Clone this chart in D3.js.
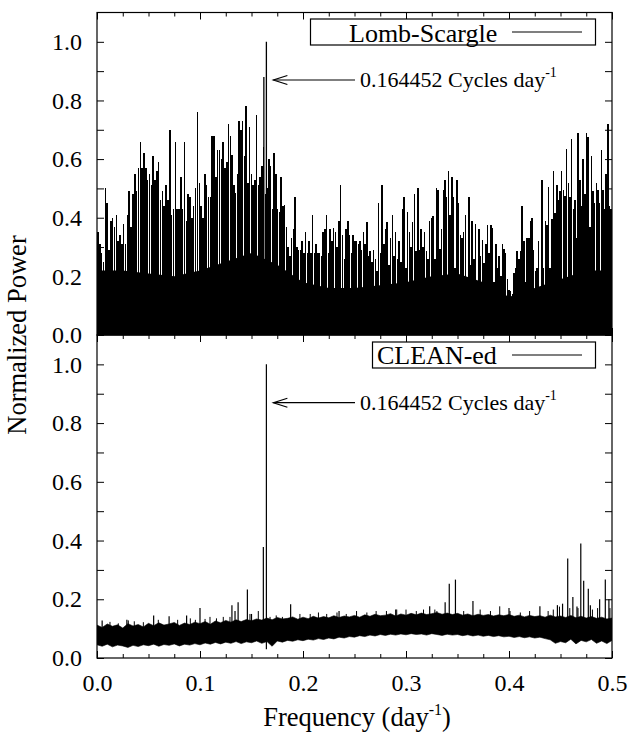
<!DOCTYPE html>
<html>
<head>
<meta charset="utf-8">
<script src="https://cdn.jsdelivr.net/npm/d3@7"></script>
<style>
body { margin: 0; background: #fff; }
</style>
</head>
<body>
<svg width="630" height="738"></svg>
<script>
var WIDTH = 630;
var HEIGHT = 738;
var FONT = '"Liberation Serif", "Times New Roman", Times, serif';

// axis ticks
var freqTicks = [0, 0.1, 0.2, 0.3, 0.4, 0.5];
var powerTicks = [0, 0.2, 0.4, 0.6, 0.8, 1.0];

// Lomb-Scargle periodogram, spike heights in four stretches
var lsEdges = [0, 0.127, 0.2545, 0.380, 0.5];
var lsPowerA = [0.35, 0.31, 0.28, 0.25, 0.50, 0.45, 0.29, 0.39, 0.40, 0.37, 0.41, 0.32, 0.34, 0.31, 0.38, 0.31,
    0.41, 0.49, 0.37, 0.48, 0.55, 0.49, 0.57, 0.66, 0.57, 0.62, 0.57, 0.53, 0.55, 0.51, 0.61, 0.53, 0.56, 0.59,
    0.46, 0.49, 0.44, 0.51, 0.46, 0.70, 0.41, 0.43, 0.66, 0.43, 0.43, 0.54, 0.43, 0.66, 0.39, 0.48, 0.47, 0.40,
    0.44, 0.50, 0.76, 0.52, 0.44, 0.40, 0.55, 0.51, 0.47, 0.47, 0.68, 0.68, 0.54, 0.63, 0.63, 0.60, 0.66, 0.57, 0.59];
var lsPowerB = [0.72, 0.68, 0.615, 0.51, 0.485, 0.55, 0.73, 0.70, 0.73, 0.61, 0.78, 0.52, 0.71, 0.55, 0.51,
    0.53, 0.75, 0.51, 0.54, 0.575, 0.64, 0.48, 0.50, 0.60, 0.575, 0.43, 0.62, 0.55, 0.43, 0.42, 0.54, 0.44,
    0.445, 0.37, 0.30, 0.27, 0.33, 0.36, 0.47, 0.30, 0.29, 0.29, 0.32, 0.28, 0.35, 0.28, 0.32, 0.28, 0.41, 0.28,
    0.31, 0.28, 0.28, 0.27, 0.35, 0.36, 0.41, 0.28, 0.36, 0.32, 0.365, 0.35, 0.30, 0.39, 0.51, 0.34, 0.26, 0.36,
    0.39, 0.34, 0.28, 0.34, 0.32, 0.32, 0.31];
var lsPowerC = [0.32, 0.29, 0.35, 0.31, 0.385, 0.27, 0.285, 0.25, 0.29, 0.26, 0.22, 0.45, 0.28, 0.51, 0.31,
    0.36, 0.385, 0.24, 0.33, 0.41, 0.27, 0.35, 0.26, 0.32, 0.25, 0.43, 0.47, 0.23, 0.42, 0.35, 0.30, 0.385, 0.48,
    0.285, 0.50, 0.29, 0.36, 0.30, 0.35, 0.285, 0.26, 0.39, 0.40, 0.405, 0.26, 0.50, 0.495, 0.295, 0.36, 0.495,
    0.53, 0.47, 0.56, 0.41, 0.54, 0.47, 0.23, 0.53, 0.45, 0.34, 0.33, 0.35, 0.41, 0.19, 0.47, 0.24, 0.39, 0.26,
    0.38, 0.18, 0.36, 0.27, 0.325, 0.245, 0.31, 0.375];
var lsPowerD = [0.28, 0.375, 0.365, 0.18, 0.31, 0.23, 0.27, 0.20, 0.31, 0.295, 0.28, 0.19, 0.155, 0.15, 0.14,
    0.21, 0.23, 0.285, 0.26, 0.285, 0.44, 0.32, 0.18, 0.33, 0.33, 0.39, 0.40, 0.29, 0.22, 0.23, 0.32, 0.125,
    0.53, 0.23, 0.39, 0.375, 0.505, 0.23, 0.395, 0.56, 0.415, 0.51, 0.46, 0.49, 0.56, 0.495, 0.475, 0.635, 0.52,
    0.47, 0.67, 0.43, 0.46, 0.33, 0.69, 0.53, 0.44, 0.60, 0.48, 0.69, 0.675, 0.37, 0.61, 0.49, 0.45, 0.52, 0.495,
    0.45, 0.63, 0.495, 0.43, 0.55, 0.72, 0.44, 0.43];
// level under which the Lomb-Scargle trace is solid black (every 0.025)
var lsFloor = [0.22, 0.22, 0.21, 0.20, 0.22, 0.25, 0.28, 0.24, 0.18, 0.16, 0.16, 0.17, 0.18, 0.20, 0.21,
    0.18, 0.13, 0.16, 0.19, 0.22, 0.22];
var lsLineFreq = [0.1620, 0.164452];
var lsLinePower = [0.88, 1.0];

// CLEAN-ed periodogram: noise band edges every 0.005, plus the spikes that stand out
var cleanHigh = [0.112, 0.104, 0.116, 0.108, 0.113, 0.102, 0.117, 0.109, 0.114, 0.106,
    0.118, 0.110, 0.120, 0.112, 0.116, 0.121, 0.111, 0.119, 0.114, 0.122,
    0.117, 0.124, 0.115, 0.126, 0.120, 0.128, 0.122, 0.130, 0.124, 0.131,
    0.127, 0.133, 0.129, 0.136, 0.130, 0.138, 0.133, 0.135, 0.140, 0.132,
    0.139, 0.134, 0.142, 0.136, 0.141, 0.137, 0.144, 0.138, 0.143, 0.140,
    0.145, 0.139, 0.147, 0.142, 0.149, 0.144, 0.146, 0.151, 0.143, 0.150,
    0.146, 0.152, 0.147, 0.153, 0.148, 0.151, 0.155, 0.149, 0.153, 0.148,
    0.152, 0.146, 0.150, 0.144, 0.149, 0.145, 0.148, 0.143, 0.147, 0.144,
    0.148, 0.142, 0.146, 0.140, 0.145, 0.141, 0.144, 0.139, 0.146, 0.140,
    0.143, 0.138, 0.145, 0.137, 0.142, 0.136, 0.141, 0.135, 0.139, 0.133, 0.136];
var cleanLow = [0.045, 0.040, 0.047, 0.038, 0.044, 0.041, 0.036, 0.043, 0.039, 0.045,
    0.042, 0.047, 0.040, 0.046, 0.043, 0.048, 0.041, 0.047, 0.044, 0.049,
    0.045, 0.051, 0.047, 0.053, 0.048, 0.054, 0.050, 0.056, 0.049, 0.055,
    0.052, 0.058, 0.050, 0.056, 0.040, 0.058, 0.054, 0.060, 0.057, 0.062,
    0.059, 0.064, 0.061, 0.066, 0.063, 0.068, 0.065, 0.071, 0.068, 0.073,
    0.071, 0.076, 0.073, 0.078, 0.075, 0.080, 0.077, 0.081, 0.078, 0.082,
    0.079, 0.083, 0.080, 0.082, 0.078, 0.083, 0.080, 0.077, 0.081, 0.078,
    0.080, 0.076, 0.079, 0.075, 0.078, 0.074, 0.077, 0.073, 0.076, 0.072,
    0.074, 0.070, 0.073, 0.069, 0.072, 0.068, 0.071, 0.066, 0.062, 0.050,
    0.056, 0.052, 0.064, 0.048, 0.060, 0.055, 0.063, 0.050, 0.058, 0.049, 0.060];
var cleanSpikeFreq = [0.005, 0.029, 0.055, 0.070, 0.087, 0.100, 0.131, 0.134, 0.137, 0.146, 0.150, 0.1615,
    0.188, 0.235, 0.290, 0.323, 0.338, 0.342, 0.348, 0.365, 0.400, 0.430, 0.447, 0.452, 0.457, 0.462, 0.466,
    0.4697, 0.4725, 0.477, 0.479, 0.488, 0.4935, 0.497];
var cleanSpikePower = [0.128, 0.13, 0.145, 0.142, 0.145, 0.17, 0.18, 0.16, 0.19, 0.233, 0.15, 0.378,
    0.183, 0.16, 0.165, 0.176, 0.19, 0.253, 0.267, 0.194, 0.17, 0.176, 0.18, 0.185, 0.339, 0.208, 0.175,
    0.39, 0.263, 0.236, 0.18, 0.20, 0.267, 0.20];
// the many small bumps poking out of the top of the CLEAN-ed noise band
var cleanBumpFreq = [0.0126, 0.0207, 0.0304, 0.0362, 0.045, 0.0595, 0.0783, 0.0906, 0.0955, 0.1049, 0.1097,
    0.116, 0.1226, 0.1291, 0.1485, 0.1566, 0.168, 0.174, 0.180, 0.197, 0.207, 0.215, 0.223, 0.233, 0.242, 0.252,
    0.262, 0.271, 0.281, 0.291, 0.300, 0.310, 0.317, 0.328, 0.330, 0.356, 0.372, 0.382, 0.391, 0.401, 0.411,
    0.420, 0.438, 0.443, 0.449, 0.459, 0.467, 0.481, 0.486, 0.498];
var cleanBumpPower = [0.123, 0.118, 0.128, 0.125, 0.122, 0.13, 0.13, 0.135, 0.13, 0.133, 0.14,
    0.135, 0.14, 0.14, 0.15, 0.16, 0.14, 0.145, 0.14, 0.15, 0.15, 0.155, 0.15, 0.155, 0.15, 0.16,
    0.155, 0.16, 0.16, 0.165, 0.165, 0.16, 0.165, 0.165, 0.16, 0.16, 0.165, 0.16, 0.176, 0.16, 0.155,
    0.16, 0.16, 0.165, 0.175, 0.17, 0.17, 0.165, 0.17, 0.17];
var mainFreq = 0.164452;

var svg = d3.select('svg').attr('width', WIDTH).attr('height', HEIGHT);

var x = d3.scaleLinear().domain([0, 0.5]).range([97, 612]);
var yTop = d3.scaleLinear().domain([0, 1.1]).range([335, 12.5]);
var yBot = d3.scaleLinear().domain([0, 1.1]).range([658, 335]);

svg.append('defs').selectAll('clipPath')
    .data([['clipTop', yTop], ['clipBot', yBot]])
    .enter().append('clipPath').attr('id', function(d) { return d[0]; })
    .append('rect')
    .attr('x', x(0)).attr('width', x(0.5) - x(0))
    .attr('y', function(d) { return d[1].range()[1]; })
    .attr('height', function(d) { return d[1].range()[0] - d[1].range()[1]; });

// ---- top panel: Lomb-Scargle ----
var topPanel = svg.append('g').attr('clip-path', 'url(#clipTop)');

var floorStep = d3.scaleLinear().domain([0, lsFloor.length - 1]).range([0, 0.5]);
topPanel.append('path')
    .datum(lsFloor)
    .attr('fill', '#000')
    .attr('d', d3.area()
        .x(function(d, i) { return x(floorStep(i)); })
        .y0(yTop(0))
        .y1(function(d) { return yTop(d); }));

// one bar per spike, spread evenly across its stretch of frequency
[lsPowerA, lsPowerB, lsPowerC, lsPowerD].forEach(function(vals, k) {
    var f = d3.scaleBand().domain(d3.range(vals.length)).range([lsEdges[k], lsEdges[k + 1]]);
    topPanel.append('g')
        .attr('shape-rendering', 'crispEdges')
        .selectAll('line')
        .data(vals)
        .enter().append('line')
        .attr('x1', function(d, i) { return x(f(i) + f.bandwidth() / 2); })
        .attr('x2', function(d, i) { return x(f(i) + f.bandwidth() / 2); })
        .attr('y1', yTop(0))
        .attr('y2', function(d) { return yTop(d); })
        .attr('stroke', '#000')
        .attr('stroke-width', 1.5);
});

topPanel.selectAll('line.peak')
    .data(lsLineFreq)
    .enter().append('line')
    .attr('class', 'peak')
    .attr('x1', function(d) { return x(d); })
    .attr('x2', function(d) { return x(d); })
    .attr('y1', yTop(0))
    .attr('y2', function(d, i) { return yTop(lsLinePower[i]); })
    .attr('stroke', '#000')
    .attr('stroke-width', 1.3);

// ---- bottom panel: CLEAN-ed ----
var botPanel = svg.append('g').attr('clip-path', 'url(#clipBot)');
var cleanStep = d3.scaleLinear().domain([0, cleanHigh.length - 1]).range([0, 0.5]);

botPanel.append('path')
    .datum(cleanHigh)
    .attr('fill', '#000')
    .attr('stroke', '#000')
    .attr('stroke-width', 0.6)
    .attr('stroke-linejoin', 'round')
    .attr('d', d3.area()
        .x(function(d, i) { return x(cleanStep(i)); })
        .y0(function(d, i) { return yBot(cleanLow[i]); })
        .y1(function(d) { return yBot(d); }));

botPanel.append('g').selectAll('line')
    .data(cleanBumpFreq)
    .enter().append('line')
    .attr('x1', function(d) { return x(d); })
    .attr('x2', function(d) { return x(d); })
    .attr('y1', yBot(0.09))
    .attr('y2', function(d, i) { return yBot(cleanBumpPower[i]); })
    .attr('stroke', '#000')
    .attr('stroke-width', 1);

botPanel.append('g').selectAll('line')
    .data(cleanSpikeFreq)
    .enter().append('line')
    .attr('x1', function(d) { return x(d); })
    .attr('x2', function(d) { return x(d); })
    .attr('y1', yBot(0.09))
    .attr('y2', function(d, i) { return yBot(cleanSpikePower[i]); })
    .attr('stroke', '#000')
    .attr('stroke-width', 1.2);

botPanel.append('line')
    .attr('x1', x(mainFreq)).attr('x2', x(mainFreq))
    .attr('y1', yBot(0.03)).attr('y2', yBot(1.0))
    .attr('stroke', '#000').attr('stroke-width', 1.2);

// ---- axes, ticks inward on all four sides ----
var yMinor = d3.range(0, 11).map(function(i) { return i / 10; });
var xMinor = d3.range(0, 21).map(function(i) { return i * 0.025; });

function styleAxis(g) {
    g.select('.domain').remove();
    g.attr('font-size', 24).attr('font-family', null);
    g.selectAll('line').attr('stroke', '#000');
}

[yTop, yBot].forEach(function(y, k) {
    var yr = y.range();
    svg.append('g').attr('transform', 'translate(' + x(0) + ',0)')
        .call(d3.axisLeft(y).tickValues(yMinor).tickSize(-7).tickFormat(''))
        .call(styleAxis);
    svg.append('g').attr('transform', 'translate(' + x(0) + ',0)')
        .call(d3.axisLeft(y).tickValues(powerTicks).tickSize(0).tickPadding(15).tickFormat(d3.format('.1f')))
        .call(styleAxis);
    svg.append('g').attr('transform', 'translate(' + x(0.5) + ',0)')
        .call(d3.axisRight(y).tickValues(yMinor).tickSize(-7).tickFormat(''))
        .call(styleAxis);

    // bottom and top edges
    svg.append('g').attr('transform', 'translate(0,' + yr[0] + ')')
        .call(d3.axisBottom(x).tickValues(xMinor).tickSize(-4).tickFormat(''))
        .call(styleAxis);
    svg.append('g').attr('transform', 'translate(0,' + yr[0] + ')')
        .call(d3.axisBottom(x).tickValues(freqTicks).tickSize(-7).tickPadding(16)
            .tickFormat(k === 1 ? d3.format('.1f') : ''))
        .call(styleAxis);
    svg.append('g').attr('transform', 'translate(0,' + yr[1] + ')')
        .call(d3.axisTop(x).tickValues(xMinor).tickSize(-4).tickFormat(''))
        .call(styleAxis);
    svg.append('g').attr('transform', 'translate(0,' + yr[1] + ')')
        .call(d3.axisTop(x).tickValues(freqTicks).tickSize(-7).tickFormat(''))
        .call(styleAxis);

    svg.append('rect')
        .attr('x', x(0)).attr('y', yr[1])
        .attr('width', x(0.5) - x(0)).attr('height', yr[0] - yr[1])
        .attr('fill', 'none').attr('stroke', '#000').attr('stroke-width', 1.2);
});

// ---- legends ----
var legends = [
    { label: 'Lomb-Scargle', box: [310.5, 19, 285, 26], tx: 349, ty: 41.7 },
    { label: 'CLEAN-ed', box: [372.5, 342, 223, 26], tx: 377, ty: 364 }
];
legends.forEach(function(l) {
    svg.append('rect')
        .attr('x', l.box[0]).attr('y', l.box[1])
        .attr('width', l.box[2]).attr('height', l.box[3])
        .attr('fill', '#fff').attr('stroke', '#000').attr('stroke-width', 1.2);
    svg.append('text').attr('x', l.tx).attr('y', l.ty)
        .attr('font-size', 26).text(l.label);
    svg.append('line')
        .attr('x1', 512).attr('x2', 582)
        .attr('y1', l.box[1] + l.box[3] / 2).attr('y2', l.box[1] + l.box[3] / 2)
        .attr('stroke', '#000').attr('stroke-width', 1.2);
});

// ---- peak annotations ----
[80, 402.7].forEach(function(ay) {
    var tip = x(mainFreq) + 7;
    svg.append('line')
        .attr('x1', tip).attr('x2', 355).attr('y1', ay).attr('y2', ay)
        .attr('stroke', '#000').attr('stroke-width', 1.2);
    svg.append('path')
        .attr('d', 'M' + (tip + 14) + ',' + (ay - 4.5) + 'L' + tip + ',' + ay + 'L' + (tip + 14) + ',' + (ay + 4.5))
        .attr('fill', 'none').attr('stroke', '#000').attr('stroke-width', 1.2);
    var t = svg.append('text').attr('x', 360).attr('y', ay + 7).attr('font-size', 22);
    t.append('tspan').text('0.164452 Cycles day');
    t.append('tspan').attr('font-size', 14).attr('dy', -10).text('-1');
});

// ---- axis titles ----
var xt = svg.append('text')
    .attr('x', 357).attr('y', 726)
    .attr('text-anchor', 'middle')
    .attr('font-size', 26.5);
xt.append('tspan').text('Frequency (day');
xt.append('tspan').attr('font-size', 16).attr('dy', -11).text('-1');
xt.append('tspan').attr('dy', 11).text(')');

svg.append('text')
    .attr('transform', 'translate(26,335) rotate(-90)')
    .attr('text-anchor', 'middle')
    .attr('font-size', 26.5)
    .text('Normalized Power');

svg.selectAll('text').style('font-family', FONT).style('fill', '#000');
</script>
</body>
</html>
